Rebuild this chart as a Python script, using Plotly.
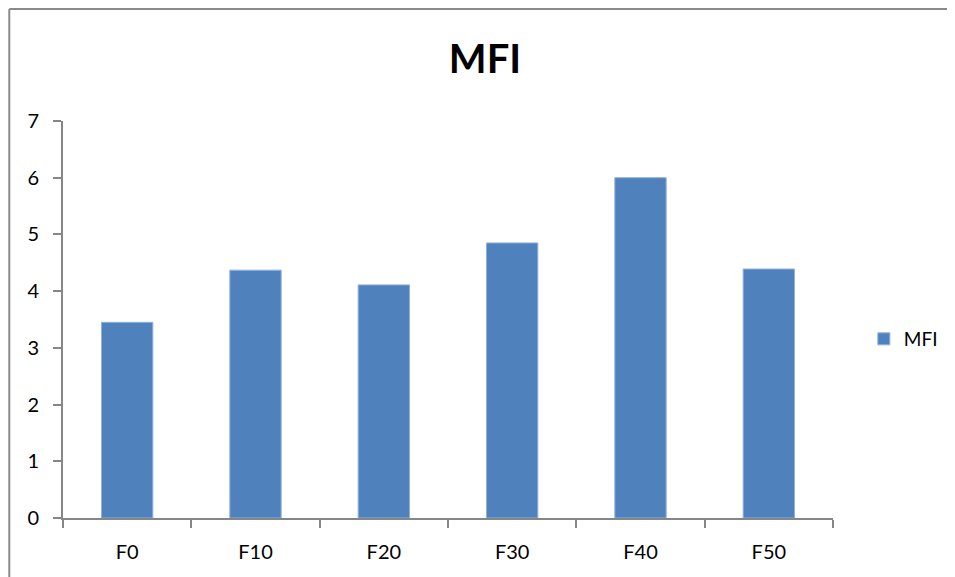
import plotly.graph_objects as go

categories = ["F0", "F10", "F20", "F30", "F40", "F50"]
mfi_values = [3.45, 4.37, 4.11, 4.85, 6.0, 4.39]
y_ticks = [0, 1, 2, 3, 4, 5, 6, 7]

# figure is offset by the page's 8px body margin, so size/margins compensate
W, H = 947, 569
L, R, T, B = 55, 118, 113, 59
pw, ph = W - L - R, H - T - B

def px_x(p):
    return (p - L) / pw

def px_y(p):
    return (H - B - p) / ph

fig = go.Figure()
fig.add_trace(go.Bar(
    x=categories, y=mfi_values, name="MFI",
    marker=dict(color="#4F81BD", line=dict(color="#8fb0dc", width=1)),
    showlegend=True,
))

axis_color = "#868686"
border = "#8a8a8a"
fig.update_layout(
    width=W, height=H,
    margin=dict(l=L, r=R, t=T, b=B),
    paper_bgcolor="white", plot_bgcolor="white",
    font=dict(family="Lato, 'Open Sans', sans-serif", color="black", size=20),
    title=dict(text="<b>MFI</b>", x=477 / W, xref="container", xanchor="center",
               y=1 - 51 / H, yref="container", yanchor="middle",
               font=dict(size=40, family="Lato, 'Open Sans', sans-serif", color="black")),
    showlegend=True,
    legend=dict(x=px_x(860), y=px_y(331), xanchor="left", yanchor="middle",
                font=dict(size=19), itemwidth=30, bgcolor="rgba(0,0,0,0)"),
    bargap=0.6,
    xaxis=dict(showline=True, linecolor=axis_color, linewidth=2,
               ticks="outside", ticklen=8, tickcolor=axis_color, tickwidth=2,
               tickson="boundaries", showgrid=False, ticklabelstandoff=15,
               tickfont=dict(size=20)),
    yaxis=dict(range=[0, 7], tickvals=y_ticks, showline=True, linecolor=axis_color,
               linewidth=2, ticks="outside", ticklen=8, tickcolor=axis_color,
               tickwidth=2, showgrid=False, zeroline=False,
               tickfont=dict(size=20), ticklabelstandoff=10),
    shapes=[
        dict(type="line", xref="paper", yref="paper",
             x0=px_x(1), x1=px_x(1), y0=px_y(H + 5), y1=px_y(1),
             line=dict(color=border, width=2), layer="below"),
        dict(type="line", xref="paper", yref="paper",
             x0=px_x(1), x1=px_x(W + 5), y0=px_y(1), y1=px_y(1),
             line=dict(color=border, width=2), layer="below"),
    ],
)

fig.write_html("out.html")
